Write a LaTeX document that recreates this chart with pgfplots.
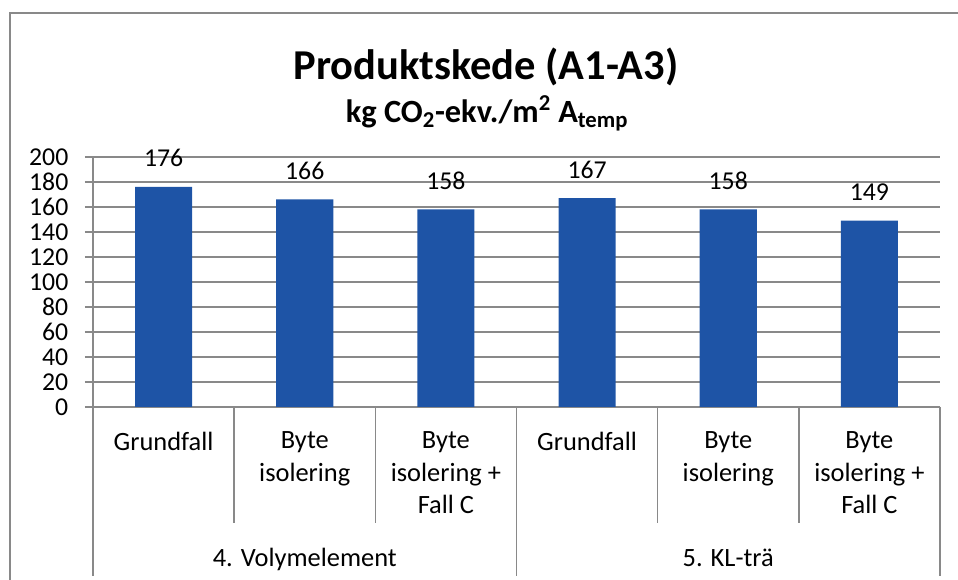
\documentclass[border=0pt]{standalone}
\usepackage{fontspec}
\setmainfont{Carlito}
\usepackage{pgfplots}
\pgfplotsset{compat=1.18}
\definecolor{barblue}{RGB}{30,84,166}
\definecolor{gridgray}{RGB}{137,137,137}
\begin{document}
\begin{tikzpicture}
\begin{scope}[x=0.75pt,y=-0.75pt,shift={(-93,-407)}]
\draw[gridgray,line width=1.5pt] (10,600) -- (10,13.5) -- (980,13.5);
\node[anchor=base,inner sep=0pt,font=\fontsize{31.9}{38}\selectfont\bfseries] at (486,80) {Produktskede (A1-A3)};
\node[anchor=base,inner sep=0pt,font=\fontsize{24.3}{29}\selectfont\bfseries] at (487,123) {kg CO\textsubscript{2}-ekv./m\textsuperscript{2} A\textsubscript{temp}};
\end{scope}
\begin{axis}[
  at={(0,0)}, anchor=south west,
  scale only axis, width=635.25pt, height=187.5pt,
  ybar, bar width=0.404,
  xmin=-0.5, xmax=5.5, ymin=0, ymax=200,
  enlargelimits=false, clip=false,
  ytick={0,20,...,200},
  axis lines*=left,
  axis line style={gridgray, line width=1.2pt},
  ymajorgrids, grid style={gridgray, line width=1.2pt},
  xtick={0,...,5},
  xticklabels={Grundfall,{Byte\\isolering},{Byte\\isolering +\\Fall C},Grundfall,{Byte\\isolering},{Byte\\isolering +\\Fall C}},
  xticklabel style={align=center, anchor=north, yshift=-9pt, font=\fontsize{19.8}{24.5}\selectfont},
  yticklabel style={xshift=-9pt, font=\fontsize{19.3}{24}\selectfont},
  x tick style={draw=none},
  y tick style={gridgray, line width=1.2pt},
  tick align=outside, major tick length=6pt,
  /pgf/number format/assume math mode=true,
  nodes near coords,
  every node near coord/.append style={font=\fontsize{19.3}{24}\selectfont, anchor=base, yshift=15pt, inner sep=0pt, text=black},
]
\addplot[fill=barblue, draw=none] coordinates {(0,176) (1,166) (2,158) (3,167) (4,158) (5,149)};
\foreach \k in {0.5,1.5,3.5,4.5} {
  \edef\tmp{\noexpand\draw[gridgray,line width=1.2pt] (axis cs:\k,0) -- (axis cs:\k,-92.8);}\tmp
}
\foreach \k in {-0.5,2.5,5.5} {
  \edef\tmp{\noexpand\draw[gridgray,line width=1.2pt] (axis cs:\k,0) -- (axis cs:\k,-135.2);}\tmp
}
\node[anchor=base, font=\fontsize{19.8}{24}\selectfont, yshift=-120pt] at (axis cs:1,0) {4. Volymelement};
\node[anchor=base, font=\fontsize{19.8}{24}\selectfont, yshift=-120pt] at (axis cs:4,0) {5. KL-trä};
\end{axis}
\pgfresetboundingbox
\begin{scope}[x=0.75pt,y=-0.75pt,shift={(-93,-407)}]
\path[use as bounding box] (0,0) rectangle (958,580);
\end{scope}
\end{tikzpicture}
\end{document}
